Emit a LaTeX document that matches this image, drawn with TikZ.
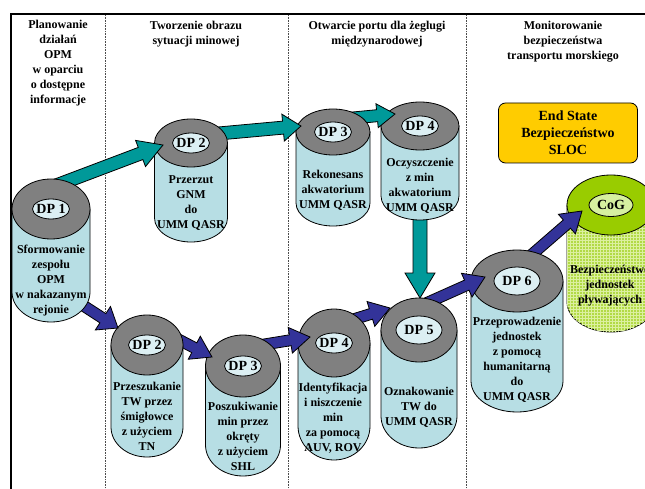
\documentclass[tikz,border=0pt]{standalone}
\usepackage{fontspec}
\setmainfont{Liberation Serif}
\usetikzlibrary{calc, patterns, shapes.geometric}
\definecolor{ringGray}{RGB}{128,128,128}
\definecolor{innerCyan}{RGB}{220,239,243}
\definecolor{bodyCyan}{RGB}{183,222,228}
\definecolor{arrowTeal}{RGB}{0,153,153}
\definecolor{arrowNavy}{RGB}{51,51,153}
\definecolor{stateGold}{RGB}{255,204,0}
\definecolor{cogGreen}{RGB}{153,204,0}
\definecolor{cogInner}{RGB}{214,240,160}
\definecolor{cogBody}{RGB}{178,218,70}
\definecolor{cogGrid}{RGB}{220,240,160}
\tikzset{
  ring_style/.style={ellipse, draw=black, line width=0.8pt, fill=ringGray, inner sep=0pt, outer sep=0pt},
  label_ellipse/.style={ellipse, draw=black, line width=0.8pt, fill=innerCyan, inner xsep=-2pt, inner ysep=-1pt, minimum width=37pt, minimum height=20pt, font=\bfseries\fontsize{14}{16}\selectfont},
  body_style/.style={draw=black, line width=0.8pt, fill=bodyCyan},
  cog_body/.style={draw=black, line width=0.8pt, fill=cogBody},
  body_text/.style={align=center, inner sep=0pt, font=\bfseries\fontsize{12}{15}\selectfont},
  header_text/.style={align=center, inner sep=0pt, font=\bfseries\fontsize{12}{15}\selectfont},
  teal_arrow/.style={draw=black, line width=0.8pt, fill=arrowTeal, line join=miter},
  navy_arrow/.style={draw=black, line width=0.8pt, fill=arrowNavy, line join=miter},
  column_rule/.style={densely dotted, line width=0.6pt, black!70},
  end_state/.style={rectangle, draw=black, line width=0.8pt, fill=stateGold, rounded corners=7pt, minimum width=139pt, minimum height=60pt, align=center, font=\bfseries\fontsize{14}{17}\selectfont}
}
% can: #1 label style, #2 name, #3 x radius, #4 y radius, #5 body length, #6 label
\newcommand{\dpcan}[6][]{%
  \draw[body_style] ($(#2c)+(-#3,0)$) -- ++(0,#5) arc[start angle=180, end angle=360, x radius=#3pt, y radius=#4pt] -- ++(0,-#5) -- cycle;
  \node[ring_style, minimum width=2*#3pt, minimum height=2*#4pt] (#2) at (#2c) {};
  \node[label_ellipse, #1] (#2Label) at (#2c) {#6};
}
% block arrow: #1 style, #2 tail, #3 tip, #4 half shaft, #5 half head, #6 head length
\newcommand{\blockarrow}[6]{%
  \coordinate (arrowTail) at (#2);
  \coordinate (arrowTip) at (#3);
  \coordinate (arrowNeck) at ($(arrowTip)!#6!(arrowTail)$);
  \draw[#1] ($(arrowTail)!#4!90:(arrowTip)$) -- ($(arrowNeck)!#4!90:(arrowTip)$) -- ($(arrowNeck)!#5!90:(arrowTip)$) -- (arrowTip) -- ($(arrowNeck)!#5!-90:(arrowTip)$) -- ($(arrowNeck)!#4!-90:(arrowTip)$) -- ($(arrowTail)!#4!-90:(arrowTip)$) -- cycle;
}

\begin{document}
\begin{tikzpicture}[x=1pt, y=-1pt]
    \useasboundingbox (0,0) rectangle (645,489);
    \clip (0,0) rectangle (645,489);

    % 1. Define coordinates
    \coordinate (dp1c) at (51,209);
    \coordinate (dp2uc) at (191,143);
    \coordinate (dp3uc) at (333,132);
    \coordinate (dp4uc) at (420,126);
    \coordinate (dp5c) at (419,330);
    \coordinate (dp6c) at (517,281);
    \coordinate (dp2lc) at (147,345);
    \coordinate (dp3lc) at (243,366);
    \coordinate (dp4lc) at (334,343);
    \coordinate (cogc) at (611,205);

    % 2. Frame and columns
    \draw[line width=2.5pt] (10,14) -- (645,14);
    \draw[line width=2pt] (11,14) -- (11,489);
    \foreach \colx in {105,288,466}
        \draw[column_rule] (\colx,15) -- (\colx,489);

    \node[header_text] (headPlan) at (58,63) {Planowanie\\działań\\OPM\\w oparciu\\o dostępne\\informacje};
    \node[header_text] (headImage) at (196,34) {Tworzenie obrazu\\sytuacji minowej};
    \node[header_text] (headPort) at (377,34) {Otwarcie portu dla żeglugi\\międzynarodowej};
    \node[header_text] (headMonitor) at (563,42) {Monitorowanie\\bezpieczeństwa\\transportu morskiego};

    \node[end_state] (endState) at (568,133) {End State\\Bezpieczeństwo\\SLOC};

    % 3. Centre of gravity
    \draw[cog_body, postaction={pattern=grid, pattern color=cogGrid}] ($(cogc)+(-44,0)$) -- ++(0,97) arc[start angle=180, end angle=360, x radius=44pt, y radius=30pt] -- ++(0,-97) -- cycle;
    \node[ring_style, fill=cogGreen, minimum width=88pt, minimum height=60pt] (cog) at (cogc) {};
    \node[label_ellipse, fill=cogInner, minimum width=44pt, minimum height=23pt] (cogLabel) at (cogc) {CoG};
    \node[body_text] (cogText) at (610,286) {Bezpieczeństwo\\jednostek\\pływających};

    % 4. Cans, drawn from the end of each chain back to DP 1
    \blockarrow{navy_arrow}{$(dp6c)+(12,-24)$}{$(cogc)+(-29,6)$}{5.5pt}{13pt}{20pt}
    \dpcan[minimum width=46pt, minimum height=28pt]{dp6}{46}{31}{100}{DP 6}
    \node[body_text] (dp6Text) at (517,360) {Przeprowadzenie\\jednostek\\z pomocą\\humanitarną\\do\\UMM QASR};

    \blockarrow{navy_arrow}{$(dp5c)+(1,-24)$}{$(dp6c)+(-32,-4)$}{5.5pt}{13pt}{20pt}
    \dpcan[minimum width=46pt, minimum height=28pt]{dp5}{38}{32}{86}{DP 5}
    \node[body_text] (dp5Text) at (419,407) {Oznakowanie\\TW do\\UMM QASR};

    \blockarrow{teal_arrow}{$(dp4uc)+(0,40)$}{$(dp5c)+(1,-32)$}{7pt}{15pt}{25pt}
    \blockarrow{navy_arrow}{$(dp4lc)+(11,-21)$}{$(dp5c)+(-29,-22)$}{5.5pt}{13pt}{20pt}
    \dpcan{dp4u}{39}{24}{70}{DP 4}
    \node[body_text] (dp4uText) at (420,186) {Oczyszczenie\\z min\\akwatorium\\UMM QASR};
    \dpcan{dp4l}{36}{34}{83}{DP 4}
    \node[body_text] (dp4lText) at (333,418) {Identyfikacja\\i niszczenie\\min\\za pomocą\\AUV, ROV};

    \blockarrow{teal_arrow}{$(dp3uc)+(-1,-12)$}{$(dp4uc)+(-25,-12)$}{6pt}{12pt}{18pt}
    \blockarrow{navy_arrow}{$(dp3lc)+(12,-20)$}{$(dp4lc)+(-24,-6)$}{5.5pt}{13pt}{20pt}
    \dpcan{dp3u}{37}{23}{71}{DP 3}
    \node[body_text] (dp3uText) at (333,190) {Rekonesans\\akwatorium\\UMM QASR};
    \dpcan{dp3l}{37.5}{31}{79}{DP 3}
    \node[body_text] (dp3lText) at (243,436) {Poszukiwanie\\min przez\\okręty\\z użyciem\\SHL};

    \blockarrow{teal_arrow}{$(dp2uc)+(0,-7)$}{$(dp3uc)+(-32,-6)$}{6.5pt}{13.5pt}{18pt}
    \blockarrow{navy_arrow}{$(dp2lc)+(21,-11)$}{$(dp3lc)+(-31,-9)$}{5.5pt}{13pt}{20pt}
    \dpcan{dp2u}{36.5}{24}{75}{DP 2}
    \node[body_text] (dp2uText) at (191,203) {Przerzut\\GNM\\do\\UMM QASR};
    \dpcan{dp2l}{36}{30}{82}{DP 2}
    \node[body_text] (dp2lText) at (147,416) {Przeszukanie\\TW przez\\śmigłowce\\z użyciem\\TN};

    \blockarrow{teal_arrow}{$(dp1c)+(-7,-19)$}{$(dp2uc)+(-28,2)$}{6.5pt}{14pt}{24pt}
    \blockarrow{navy_arrow}{$(dp1c)+(19,88)$}{$(dp2lc)+(-29,-17)$}{5.5pt}{14pt}{18pt}
    \dpcan{dp1}{39}{30}{83}{DP 1}
    \node[body_text] (dp1Text) at (51,281) {Sformowanie\\zespołu\\OPM\\w nakazanym\\rejonie};
\end{tikzpicture}
\end{document}
